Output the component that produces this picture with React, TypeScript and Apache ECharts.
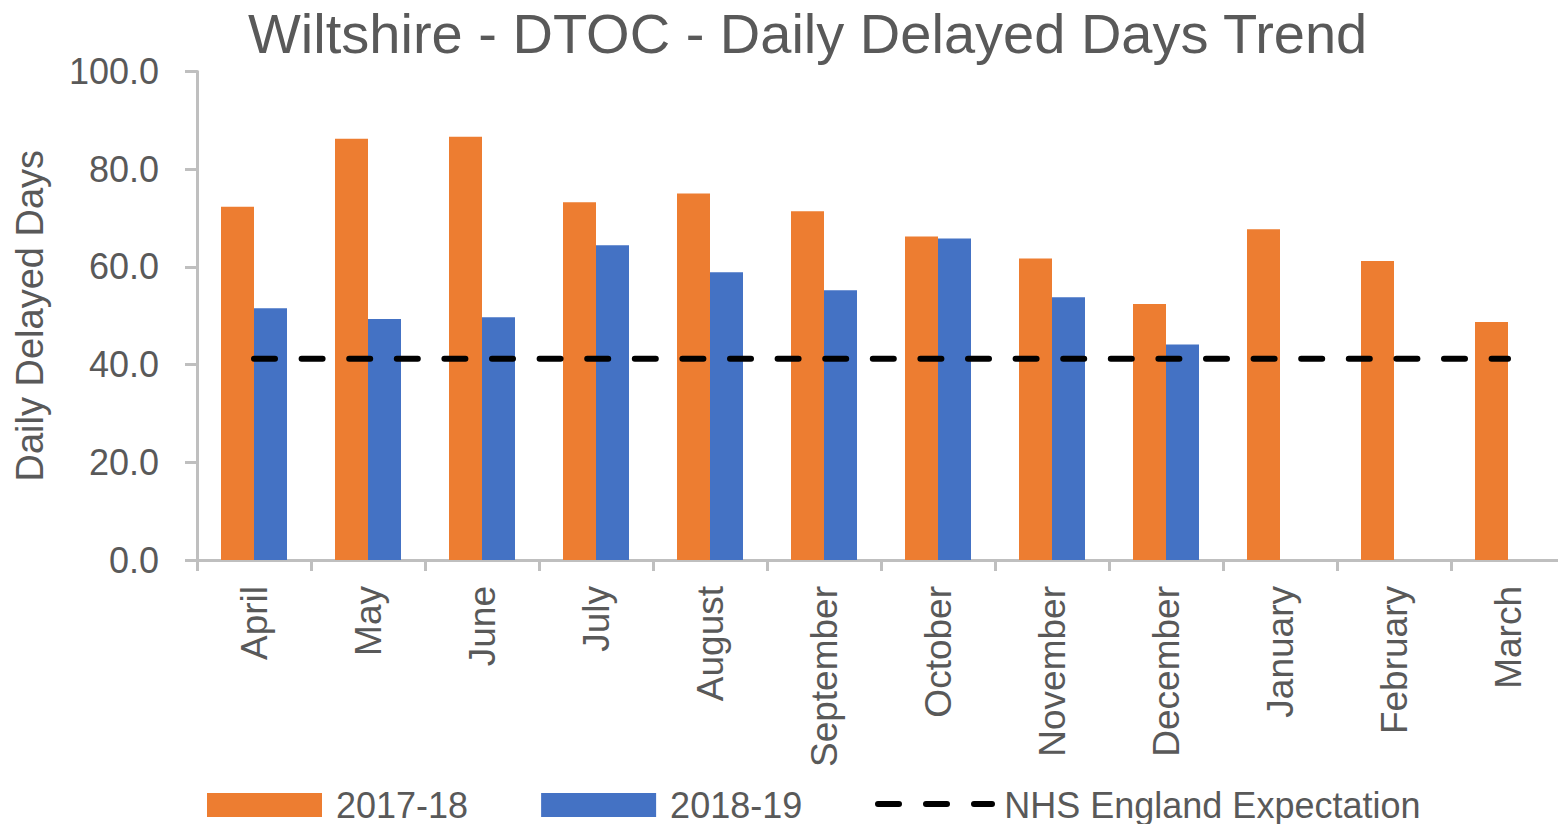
import React, { useEffect, useRef } from "react";
import * as echarts from "echarts";

const months = ["April", "May", "June", "July", "August", "September", "October", "November", "December", "January", "February", "March"];
const series2017 = [72.3, 86.2, 86.6, 73.2, 75.0, 71.4, 66.2, 61.7, 52.4, 67.7, 61.2, 48.7];
const series2018 = [51.5, 49.3, 49.7, 64.4, 58.9, 55.2, 65.8, 53.8, 44.1, null, null, null];
const expectation = [41.2, 41.2, 41.2, 41.2, 41.2, 41.2, 41.2, 41.2, 41.2, 41.2, 41.2, 41.2];
const yTicks = { min: 0, max: 100, interval: 20 };

const FONT = "Liberation Sans";
const TEXT = "#595959";
const AXIS = "#bfbfbf";

export default function App() {
  const ref = useRef<HTMLDivElement>(null);
  useEffect(() => {
    if (!ref.current) return;
    const chart = echarts.init(ref.current, null, { renderer: "svg" });
    chart.setOption({
      animation: false,
      backgroundColor: "#ffffff",
      textStyle: { fontFamily: FONT },
      title: {
        text: "Wiltshire - DTOC - Daily Delayed Days Trend",
        left: 248,
        top: 5,
        padding: 0,
        textStyle: { fontFamily: FONT, fontSize: 56, fontWeight: "normal", color: TEXT },
      },
      grid: { left: 197, right: 0, top: 71.4, bottom: 264, containLabel: false },
      legend: {
        left: 207,
        top: 787,
        padding: 0,
        itemWidth: 115,
        itemHeight: 24,
        itemGap: 73,
        textStyle: { fontFamily: FONT, fontSize: 36, color: TEXT, padding: [0, 0, 0, 9] },
        data: [
          { name: "2017-18", icon: "rect" },
          { name: "2018-19", icon: "rect" },
          { name: "NHS England Expectation", icon: "rect", itemStyle: { opacity: 0 } },
        ],
      },
      graphic: [
        {
          type: "line",
          silent: true,
          shape: { x1: 878, y1: 804, x2: 992, y2: 804 },
          style: { stroke: "#000000", lineWidth: 6, lineDash: [21, 27], lineCap: "round" },
          z: 10,
        },
      ],
      xAxis: {
        type: "category",
        data: months,
        axisLine: { lineStyle: { color: AXIS, width: 3 } },
        axisTick: { show: true, length: 11, lineStyle: { color: AXIS, width: 3 } },
        axisLabel: { rotate: 90, margin: 26, fontSize: 37, color: TEXT, fontFamily: FONT },
        splitLine: { show: false },
      },
      yAxis: {
        type: "value",
        min: yTicks.min,
        max: yTicks.max,
        interval: yTicks.interval,
        name: "Daily Delayed Days",
        nameLocation: "middle",
        nameGap: 148,
        nameTextStyle: { fontSize: 38, color: TEXT, fontFamily: FONT },
        axisLine: { show: true, lineStyle: { color: AXIS, width: 3 } },
        axisTick: { show: true, length: 12, lineStyle: { color: AXIS, width: 3 } },
        axisLabel: {
          margin: 38,
          fontSize: 36,
          color: TEXT,
          fontFamily: FONT,
          formatter: (v: number) => v.toFixed(1),
        },
        splitLine: { show: false },
      },
      series: [
        {
          name: "2017-18",
          type: "bar",
          data: series2017,
          barWidth: 33,
          barGap: "0%",
          itemStyle: { color: "#ED7D31" },
        },
        {
          name: "2018-19",
          type: "bar",
          data: series2018,
          barWidth: 33,
          barGap: "0%",
          itemStyle: { color: "#4472C4" },
        },
        {
          name: "NHS England Expectation",
          type: "line",
          data: expectation,
          symbol: "none",
          z: 5,
          lineStyle: { color: "#000000", width: 6, type: [21, 26.6], cap: "round" },
          itemStyle: { color: "#000000" },
        },
      ],
    });
    return () => chart.dispose();
  }, []);
  return (
    <div style={{ position: "fixed", left: 0, top: 0, width: 1558, height: 824, overflow: "hidden", background: "#fff" }}>
      <div ref={ref} style={{ width: 1565, height: 824 }} />
    </div>
  );
}
